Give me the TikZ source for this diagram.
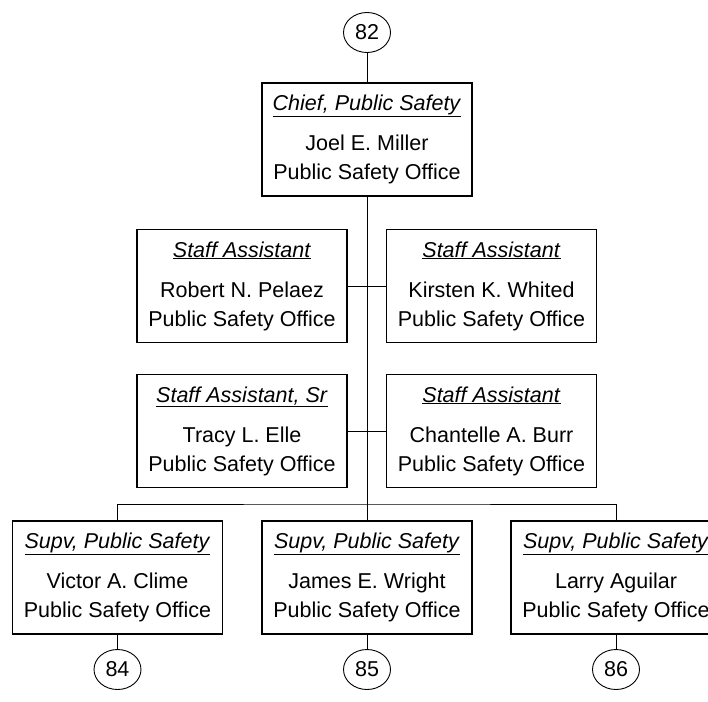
\documentclass[tikz,border=0pt]{standalone}
\usepackage{fontspec}
\setmainfont{Liberation Sans}
\usetikzlibrary{shapes.geometric, positioning}
\tikzset{
    org box/.style = {draw, line width=1.1pt, rectangle, minimum width=210, minimum height=113,
        inner sep=0pt, align=center, font=\fontsize{21.5}{29}\selectfont},
    page ref/.style = {draw, line width=0.9pt, ellipse, minimum width=47, minimum height=40,
        inner sep=0pt, font=\fontsize{21.5}{24}\selectfont},
    org line/.style = {draw, line width=1pt},
}
\newcommand{\orgtitle}[1]{\underline{\textit{#1}}\\[11pt]}

\begin{document}
\begin{tikzpicture}[x=1pt, y=-1pt]
        \clip (0, 0) rectangle (708, 701);
        \node[page ref] (p82) at (367, 32.5) {82};
        \node[org box] (chief) at (367, 139.5) {\orgtitle{Chief, Public Safety}Joel E. Miller\\Public Safety Office};

        \node[org box] (rnp) at (242, 286) {\orgtitle{Staff Assistant}Robert N. Pelaez\\Public Safety Office};
        \node[org box] (kkw) at (491.5, 286) {\orgtitle{Staff Assistant}Kirsten K. Whited\\Public Safety Office};
        \node[org box] (tle) at (242, 431) {\orgtitle{Staff Assistant, Sr}Tracy L. Elle\\Public Safety Office};
        \node[org box] (cab) at (491.5, 431) {\orgtitle{Staff Assistant}Chantelle A. Burr\\Public Safety Office};

        \node[org box] (vac) at (117.5, 577.5) {\orgtitle{Supv, Public Safety}Victor A. Clime\\Public Safety Office};
        \node[org box] (jew) at (367, 577.5) {\orgtitle{Supv, Public Safety}James E. Wright\\Public Safety Office};
        \node[org box] (la) at (616, 577.5) {\orgtitle{Supv, Public Safety}Larry Aguilar\\Public Safety Office};

        \node[page ref] (p84) at (117.5, 669.5) {84};
        \node[page ref] (p85) at (367, 669.5) {85};
        \node[page ref] (p86) at (616, 669.5) {86};

        \coordinate (bus) at (367, 504);

        \draw[org line] (p82) -- (chief);
        \draw[org line] (chief) -- (jew);
        \draw[org line] (rnp) -- (kkw);
        \draw[org line] (tle) -- (cab);
        \draw[org line] (vac.north) |- (bus) -| (la.north);
        \draw[org line] (vac) -- (p84);
        \draw[org line] (jew) -- (p85);
        \draw[org line] (la) -- (p86);
    \end{tikzpicture}
\end{document}
